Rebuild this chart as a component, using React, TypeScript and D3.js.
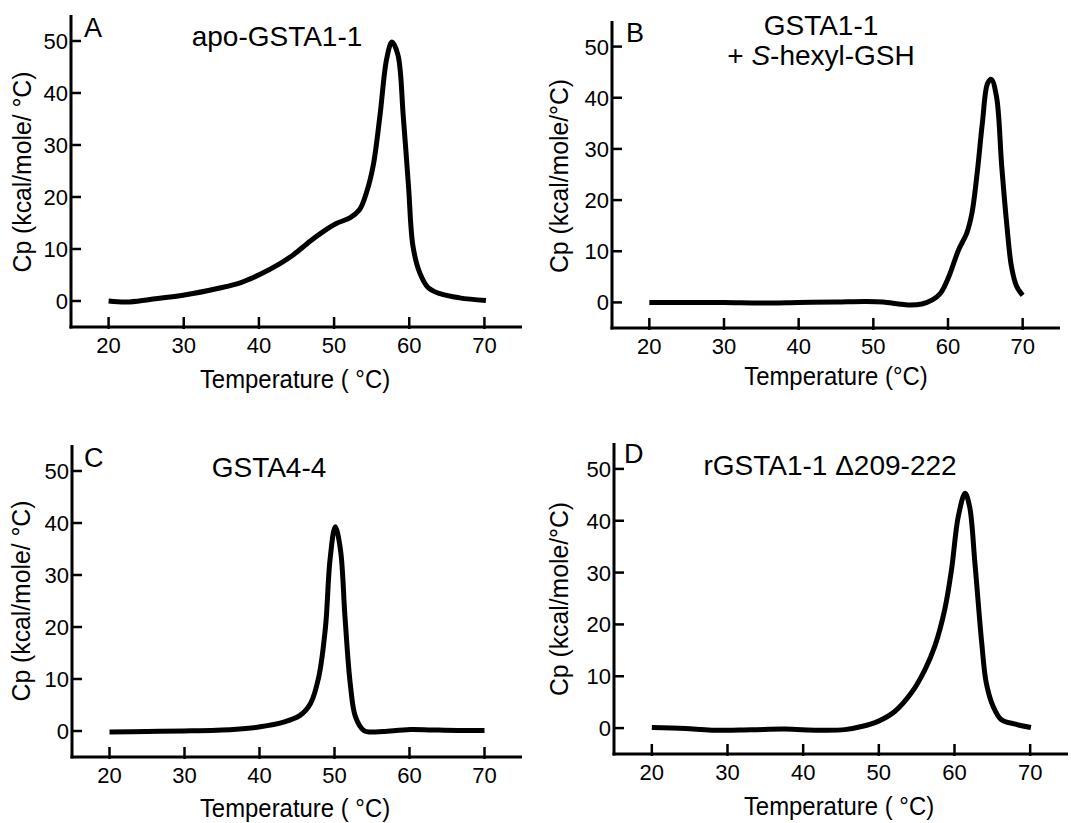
import React from "react";
import * as d3 from "d3";

// Excess heat capacity traces (temperature in °C, Cp in kcal/mole/°C)
const tempA = [20, 22.4, 25.5, 29.9, 34.8, 37.5, 40.1, 42.8, 44.6, 46.8, 48.6, 50.3, 52.1, 53.4, 54.3, 55.2, 56.1, 57.0, 57.7, 58.5, 59.2, 59.9, 60.5, 61.4, 62.5, 64.1, 66.7, 70.2];
const cpA = [0, -0.2, 0.3, 1.1, 2.5, 3.5, 5.1, 7.2, 8.9, 11.5, 13.4, 14.9, 16.0, 17.6, 20.8, 26.0, 35.6, 46.6, 49.8, 47.3, 35.6, 22.1, 10.5, 5.4, 2.6, 1.4, 0.6, 0.1];

const tempB = [20, 25, 30, 35, 40, 45, 49, 51.3, 53.4, 54.7, 56.5, 57.9, 59.0, 60.1, 61.4, 62.5, 63.2, 63.9, 64.6, 65.3, 65.8, 66.5, 67.2, 67.9, 68.5, 69.2, 70];
const cpB = [0, 0, 0, -0.1, 0, 0.1, 0.2, 0.1, -0.3, -0.5, -0.3, 0.5, 1.8, 5.0, 10.2, 13.5, 17.4, 25.2, 35.0, 42.8, 43.6, 40.2, 26.5, 14.8, 7.0, 3.1, 1.4];

const tempC = [20, 25, 29.9, 36.5, 40.1, 43.2, 45.4, 46.8, 47.9, 48.8, 49.4, 50.1, 50.8, 51.4, 52.1, 52.8, 53.9, 54.8, 56.5, 60.1, 63, 66.5, 70];
const cpC = [-0.2, -0.1, 0, 0.3, 0.8, 1.7, 3.0, 5.3, 10.4, 20.0, 32.9, 39.3, 34.8, 21.9, 9.1, 2.7, 0.1, -0.2, -0.1, 0.3, 0.2, 0.1, 0.1];

const tempD = [20, 24.4, 27.9, 33.2, 37.6, 42, 45.5, 47.7, 49.9, 52.1, 54.3, 56.1, 57.4, 58.7, 59.6, 60.5, 61.4, 62.0, 62.7, 63.6, 64.2, 65.1, 66.2, 67.9, 70.1];
const cpD = [0.1, -0.1, -0.4, -0.3, -0.2, -0.4, -0.3, 0.3, 1.3, 3.2, 6.8, 11.3, 15.8, 22.8, 30.5, 40.8, 45.3, 42.7, 31.8, 16.4, 8.7, 4.2, 1.6, 0.8, 0.1];

const xTicks = [20, 30, 40, 50, 60, 70];
const yTicks = [0, 10, 20, 30, 40, 50];
const xDomain = [15, 75];
const yDomain = [-5, 55];

const FONT = "'Liberation Sans', Arial, Helvetica, sans-serif";

type Panel = {
  letter: string;
  title: React.ReactNode[];
  temps: number[];
  cps: number[];
  yLabel: string;
  xLabel: string;
  frame: { left: number; right: number; top: number; bottom: number };
  letterPos: [number, number];
  titleX: number;
  titleY: number[];
  yLabelPos: [number, number];
  xLabelPos: [number, number];
};

const panels: Panel[] = [
  {
    letter: "A",
    title: ["apo-GSTA1-1"],
    temps: tempA,
    cps: cpA,
    yLabel: "Cp (kcal/mole/ °C)",
    xLabel: "Temperature ( °C)",
    frame: { left: 71, right: 522, top: 15, bottom: 327 },
    letterPos: [84, 37],
    titleX: 277,
    titleY: [46],
    yLabelPos: [31, 172],
    xLabelPos: [295, 388],
  },
  {
    letter: "B",
    title: [
      "GSTA1-1",
      <>
        + <tspan fontStyle="italic">S</tspan>-hexyl-GSH
      </>,
    ],
    temps: tempB,
    cps: cpB,
    yLabel: "Cp (kcal/mole/°C)",
    xLabel: "Temperature (°C)",
    frame: { left: 612, right: 1060, top: 21, bottom: 328 },
    letterPos: [626, 42],
    titleX: 821,
    titleY: [35, 65],
    yLabelPos: [568, 176],
    xLabelPos: [836, 385],
  },
  {
    letter: "C",
    title: ["GSTA4-4"],
    temps: tempC,
    cps: cpC,
    yLabel: "Cp (kcal/mole/ °C)",
    xLabel: "Temperature ( °C)",
    frame: { left: 72, right: 522, top: 445, bottom: 757 },
    letterPos: [84, 467],
    titleX: 269,
    titleY: [477],
    yLabelPos: [30, 601],
    xLabelPos: [295, 817],
  },
  {
    letter: "D",
    title: ["rGSTA1-1 \u0394209-222"],
    temps: tempD,
    cps: cpD,
    yLabel: "Cp (kcal/mole/°C)",
    xLabel: "Temperature ( °C)",
    frame: { left: 614, right: 1068, top: 443, bottom: 754 },
    letterPos: [624, 463],
    titleX: 830,
    titleY: [475],
    yLabelPos: [568, 599],
    xLabelPos: [839, 815],
  },
];

function Label(props: {
  x: number;
  y: number;
  size: number;
  anchor?: string;
  rotate?: number;
  sx?: number;
  children: React.ReactNode;
}) {
  const { x, y, size, anchor = "start", rotate = 0, sx = 1, children } = props;
  return (
    <text
      transform={`translate(${x},${y}) rotate(${rotate}) scale(${sx},1)`}
      fontSize={size}
      fontFamily={FONT}
      textAnchor={anchor}
      fill="#000"
    >
      {children}
    </text>
  );
}

function PanelChart({ p }: { p: Panel }) {
  const { left, right, top, bottom } = p.frame;
  const x = d3.scaleLinear().domain(xDomain).range([left, right]);
  const y = d3.scaleLinear().domain(yDomain).range([bottom, top]);
  const pts: [number, number][] = p.temps.map((t, i) => [t, p.cps[i]]);
  const line = d3
    .line<[number, number]>()
    .x((d) => x(d[0]))
    .y((d) => y(d[1]))
    .curve(d3.curveCatmullRom.alpha(0.5));
  const tickLen = 10;
  return (
    <g>
      {/* axes */}
      <line x1={left} x2={left} y1={top} y2={bottom + 1.5} stroke="#000" strokeWidth={3} />
      <line x1={left - 1.5} x2={right} y1={bottom} y2={bottom} stroke="#000" strokeWidth={3} />
      {xTicks.map((t) => (
        <g key={"x" + t}>
          <line x1={x(t)} x2={x(t)} y1={bottom + 2} y2={bottom - tickLen} stroke="#000" strokeWidth={2.5} />
          <Label x={x(t)} y={bottom + 26} size={22} anchor="middle">
            {t}
          </Label>
        </g>
      ))}
      {yTicks.map((t) => (
        <g key={"y" + t}>
          <line x1={left} x2={left + tickLen} y1={y(t)} y2={y(t)} stroke="#000" strokeWidth={2.5} />
          <Label x={left - 3} y={y(t) + 8} size={22} anchor="end">
            {t}
          </Label>
        </g>
      ))}
      {/* trace */}
      <path d={line(pts) ?? ""} fill="none" stroke="#000" strokeWidth={5} strokeLinejoin="round" strokeLinecap="butt" />
      {/* labels */}
      <Label x={p.letterPos[0]} y={p.letterPos[1]} size={27}>
        {p.letter}
      </Label>
      {p.title.map((t, i) => (
        <Label key={i} x={p.titleX} y={p.titleY[i]} size={28} anchor="middle">
          {t}
        </Label>
      ))}
      <Label x={p.yLabelPos[0]} y={p.yLabelPos[1]} size={25.5} sx={0.97} anchor="middle" rotate={-90}>
        {p.yLabel}
      </Label>
      <Label x={p.xLabelPos[0]} y={p.xLabelPos[1]} size={26} sx={0.92} anchor="middle">
        {p.xLabel}
      </Label>
    </g>
  );
}

export default function App() {
  return (
    <svg
      width={1071}
      height={823}
      viewBox="0 0 1071 823"
      style={{ position: "absolute", left: 0, top: 0, background: "#fff" }}
    >
      <rect width={1071} height={823} fill="#fff" />
      {panels.map((p) => (
        <PanelChart key={p.letter} p={p} />
      ))}
    </svg>
  );
}
